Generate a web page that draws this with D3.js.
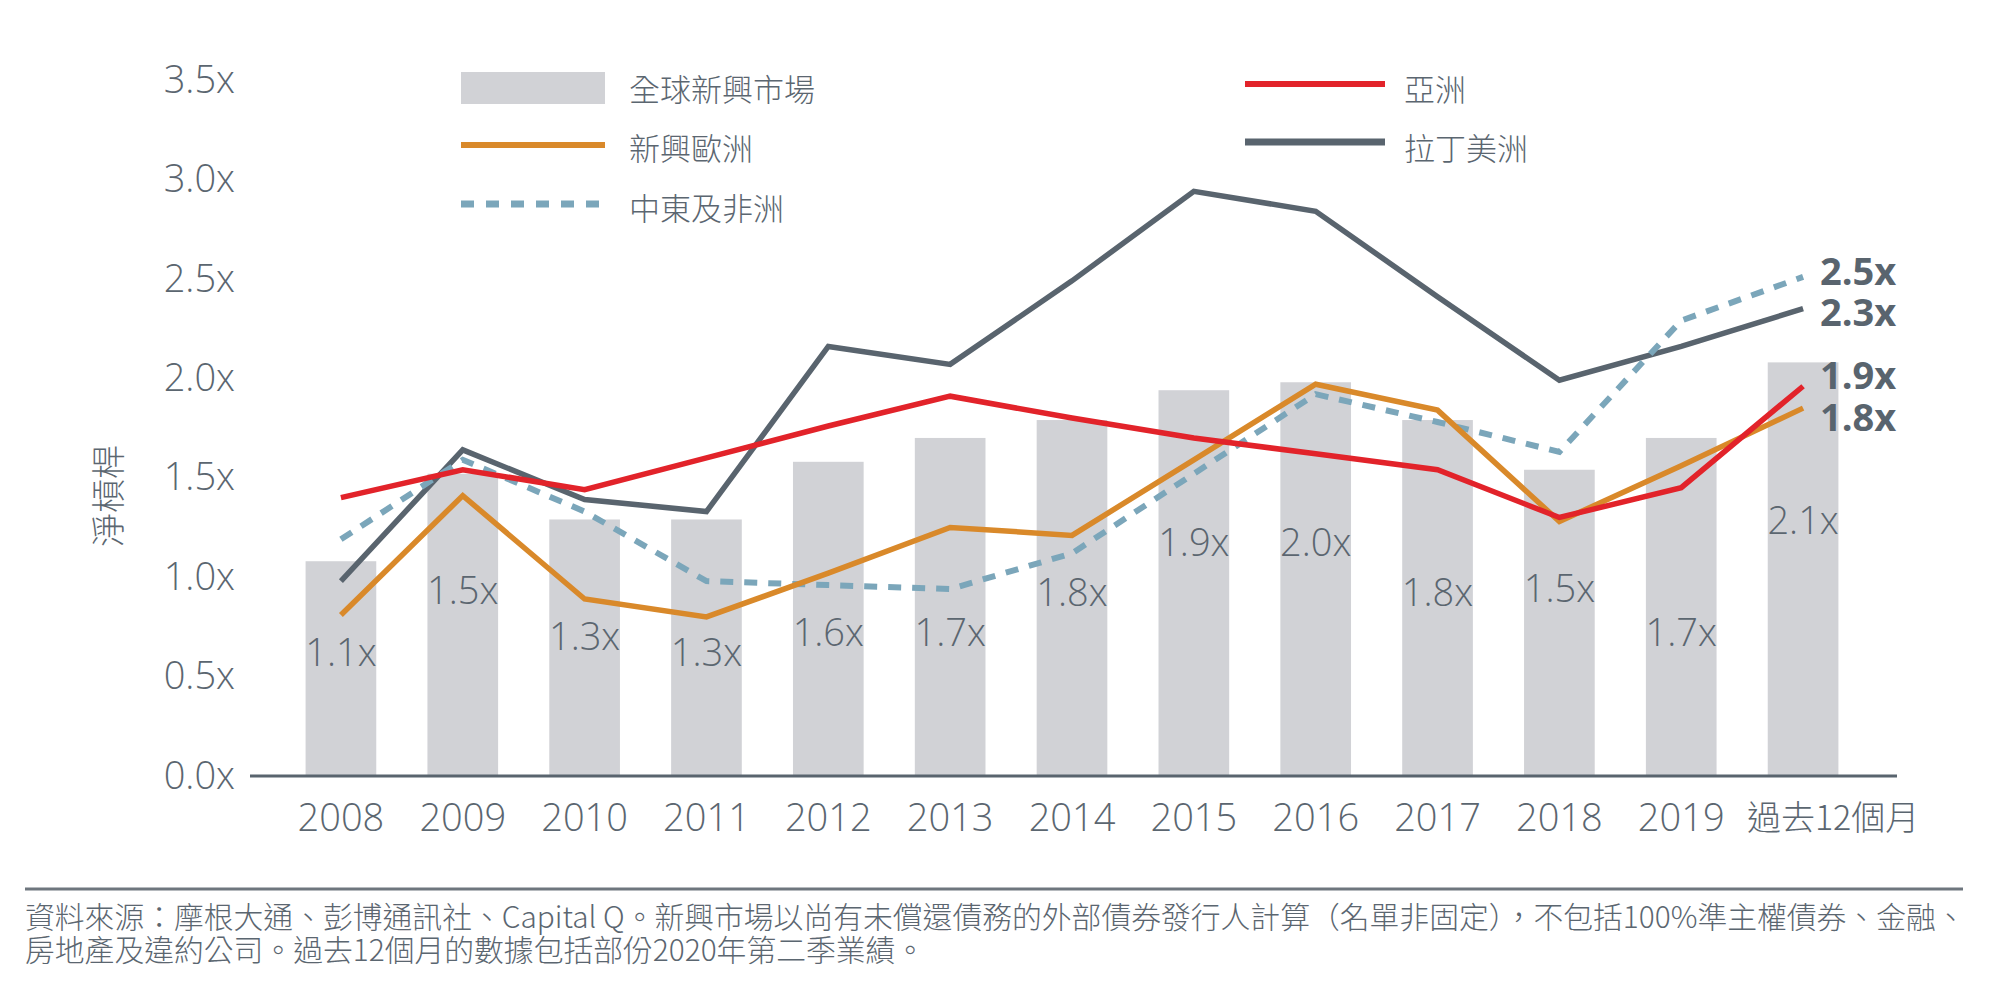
<!DOCTYPE html>
<html><head><meta charset="utf-8">
<script src="https://cdn.jsdelivr.net/npm/d3@7/dist/d3.min.js"></script>
<style>
html,body{margin:0;padding:0;background:#fff;}
svg{display:block;}
</style></head>
<body>
<svg id="chart" width="1992" height="998"></svg>
<script>
// ---------- DATA ----------
const categories = ["2008","2009","2010","2011","2012","2013","2014","2015","2016","2017","2018","2019","過去12個月"];
const globalEM = [1.08,1.52,1.29,1.29,1.58,1.70,1.79,1.94,1.98,1.79,1.54,1.70,2.08];
const globalEMLabels = ["1.1x","1.5x","1.3x","1.3x","1.6x","1.7x","1.8x","1.9x","2.0x","1.8x","1.5x","1.7x","2.1x"];
const asia = [1.40,1.54,1.44,1.60,1.76,1.91,1.80,1.70,1.62,1.54,1.30,1.45,1.96];
const emEurope = [0.81,1.41,0.89,0.80,1.02,1.25,1.21,1.59,1.97,1.84,1.28,1.56,1.85];
const mea = [1.19,1.59,1.33,0.98,0.96,0.94,1.12,1.52,1.92,1.78,1.63,2.29,2.51];
const latam = [0.98,1.64,1.39,1.33,2.16,2.07,2.49,2.94,2.84,2.41,1.99,2.16,2.35];
const yTicks = [0,0.5,1,1.5,2,2.5,3,3.5];
const endLabels = ["2.5x","2.3x","1.9x","1.8x"];
const seriesNames = {bars:"全球新興市場", europe:"新興歐洲", mea:"中東及非洲", asia:"亞洲", latam:"拉丁美洲"};
const yTitle = "淨槓桿";
const footnote = [
  "資料來源：摩根大通、彭博通訊社、Capital Q。新興市場以尚有未償還債務的外部債券發行人計算（名單非固定），不包括100%準主權債券、金融、",
  "房地產及違約公司。過去12個月的數據包括部份2020年第二季業績。"
];

// ---------- LAYOUT (positions of value labels, in axis units) ----------
const barLabelPos = [0.63,0.94,0.71,0.63,0.73,0.73,0.93,1.18,1.18,0.93,0.95,0.73,1.29];
const endLabelPos = [2.545,2.34,2.02,1.81];

const C = {bar:"#d1d2d6", red:"#e2232a", orange:"#d9892a", blue:"#7ba6ba", dark:"#59646e", text:"#5b6670"};
const numFont = "'Open Sans', sans-serif";
const cjkFont = "'Noto Sans CJK TC', 'Noto Sans', sans-serif";

const svg = d3.select("#chart");
const x = d3.scaleBand().domain(categories).range([280,1864]).paddingInner(0.42).paddingOuter(0.21);
const y = d3.scaleLinear().domain([0,3.5]).range([776,80]);
const cx = d => x(d) + x.bandwidth()/2;

// bars
svg.append("g").selectAll("rect").data(categories).join("rect")
  .attr("x", d => x(d)).attr("width", x.bandwidth())
  .attr("y", (d,i) => y(globalEM[i])).attr("height", (d,i) => y(0) - y(globalEM[i]))
  .attr("fill", C.bar);

// bar labels
svg.append("g").selectAll("text").data(categories).join("text")
  .attr("x", d => cx(d)).attr("y", (d,i) => y(barLabelPos[i]))
  .attr("text-anchor","middle").attr("dominant-baseline","central")
  .attr("font-family", numFont).attr("font-weight",300).attr("font-size",38)
  .attr("fill", C.text).text((d,i) => globalEMLabels[i]);

// y axis labels
const yAxis = d3.axisLeft(y).tickValues(yTicks).tickSize(0).tickPadding(0)
  .tickFormat(d => d3.format(".1f")(d) + "x");
const gy = svg.append("g").attr("transform","translate(235,0)").call(yAxis);
gy.select(".domain").remove();
gy.selectAll("text").attr("font-family", numFont).attr("font-weight",300)
  .attr("font-size",38).attr("fill", C.text);

// x axis
const xAxis = d3.axisBottom(x).tickSize(0).tickPadding(0);
const gx = svg.append("g").attr("transform", `translate(0,${y(0)})`).call(xAxis);
gx.select(".domain").remove();
gx.selectAll("text").attr("font-family", (d) => d === "過去12個月" ? cjkFont : numFont)
  .attr("font-weight",300).attr("font-size", d => d === "過去12個月" ? 34 : 38)
  .attr("fill", C.text).attr("y", 42).attr("dy","0.35em")
  .attr("dx", d => d === "過去12個月" ? 30 : 0);
svg.append("line").attr("x1",250).attr("x2",1897).attr("y1",y(0)).attr("y2",y(0))
  .attr("stroke", C.dark).attr("stroke-width",3);

// lines
const line = vals => d3.line().x((d,i) => cx(categories[i])).y(d => y(d))(vals);
const lines = [
  {v: latam, c: C.dark, w: 5.5},
  {v: mea, c: C.blue, w: 6, dash: "13,11"},
  {v: emEurope, c: C.orange, w: 5.5},
  {v: asia, c: C.red, w: 5.5}
];
lines.forEach(s => {
  svg.append("path").attr("d", line(s.v)).attr("fill","none")
    .attr("stroke", s.c).attr("stroke-width", s.w)
    .attr("stroke-dasharray", s.dash || null).attr("stroke-linejoin","miter");
});

// end labels
svg.append("g").selectAll("text").data(endLabels).join("text")
  .attr("x", 1820).attr("y", (d,i) => y(endLabelPos[i]))
  .attr("dominant-baseline","central")
  .attr("font-family", numFont).attr("font-weight",700).attr("font-size",38)
  .attr("fill", C.dark).text(d => d);

// y title
svg.append("text").attr("transform","translate(106,496) rotate(-90)")
  .attr("text-anchor","middle").attr("dominant-baseline","central")
  .attr("font-family", cjkFont).attr("font-weight",300).attr("font-size",34)
  .attr("fill", C.text).text(yTitle);

// legend
const lg = svg.append("g");
const legText = (tx, ty, t) => lg.append("text").attr("x",tx).attr("y",ty)
  .attr("dominant-baseline","central").attr("font-family", cjkFont)
  .attr("font-weight",300).attr("font-size",31).attr("fill", C.text).text(t);
lg.append("rect").attr("x",461).attr("y",72).attr("width",144).attr("height",32).attr("fill",C.bar);
legText(629, 87, seriesNames.bars);
lg.append("line").attr("x1",461).attr("x2",605).attr("y1",145).attr("y2",145).attr("stroke",C.orange).attr("stroke-width",6);
legText(629, 146, seriesNames.europe);
lg.append("line").attr("x1",461).attr("x2",605).attr("y1",204).attr("y2",204).attr("stroke",C.blue).attr("stroke-width",7).attr("stroke-dasharray","13,12");
legText(629, 206, seriesNames.mea);
lg.append("line").attr("x1",1245).attr("x2",1385).attr("y1",84).attr("y2",84).attr("stroke",C.red).attr("stroke-width",6);
legText(1404, 87, seriesNames.asia);
lg.append("line").attr("x1",1245).attr("x2",1385).attr("y1",142).attr("y2",142).attr("stroke",C.dark).attr("stroke-width",7);
legText(1404, 146, seriesNames.latam);

// footer (one wrapped paragraph)
svg.append("line").attr("x1",25).attr("x2",1963).attr("y1",889).attr("y2",889).attr("stroke","#6e767e").attr("stroke-width",3);
const foot = svg.append("text").attr("font-family", cjkFont).attr("font-weight",300)
  .attr("font-size",29.8).attr("fill", C.text);
foot.selectAll("tspan").data(footnote).join("tspan")
  .attr("x",25).attr("y",(d,i) => 928 + i*33).text(d => d);
</script>
</body></html>
